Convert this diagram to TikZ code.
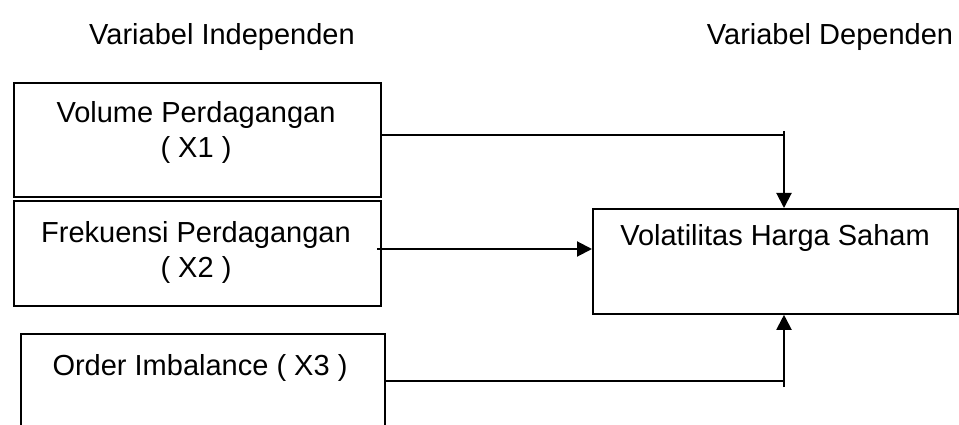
\documentclass[tikz,border=0pt]{standalone}
\usepackage{fontspec}
\setmainfont{Liberation Sans}
\usetikzlibrary{arrows.meta}
\begin{document}
\begin{tikzpicture}[x=1pt,y=-1pt,
  varbox/.style={draw=black,line width=1.8pt,rectangle,inner sep=0pt,anchor=north west},
  lbl/.style={inner sep=0pt,font=\fontsize{29}{35}\selectfont,align=center},
  conn/.style={line width=2pt},
  arr/.style={conn,-{Triangle[length=15pt,width=15pt]}}]
\clip (0,0) rectangle (959,425);
\fill[white] (0,0) rectangle (959,425);

% column headings
\node[lbl] (hind) at (222,37) {Variabel Independen};
\node[lbl] (hdep) at (830,37) {Variabel Dependen};

% independent variables
\node[varbox,minimum width=367pt,minimum height=114pt] (b1) at (13,82) {};
\node[lbl] (t1) at (196,132) {Volume Perdagangan\\( X1 )};
\node[varbox,minimum width=367pt,minimum height=105pt] (b2) at (13,200) {};
\node[lbl] (t2) at (196,252) {Frekuensi Perdagangan\\( X2 )};
\node[varbox,minimum width=364pt,minimum height=130pt] (b3) at (20,333) {};
\node[lbl] (t3) at (200,368) {Order Imbalance ( X3 )};

% dependent variable
\node[varbox,minimum width=365pt,minimum height=105pt] (dv) at (592,208) {};
\node[lbl] (tdv) at (775,238) {Volatilitas Harga Saham};

% connector corners
\coordinate (c1) at (784,135);
\coordinate (c1t) at (784,131);
\coordinate (c2) at (377,249);
\coordinate (c3) at (784,381);
\coordinate (c3b) at (784,387);

% connectors
\draw[conn] (b1.east |- c1) -- (c1);
\draw[arr] (c1t) -- (c1 |- dv.north);
\draw[arr] (c2) -- (dv.west |- c2);
\draw[conn] (b3.east |- c3) -- (c3);
\draw[arr] (c3b) -- (c3 |- dv.south);
\end{tikzpicture}
\end{document}
